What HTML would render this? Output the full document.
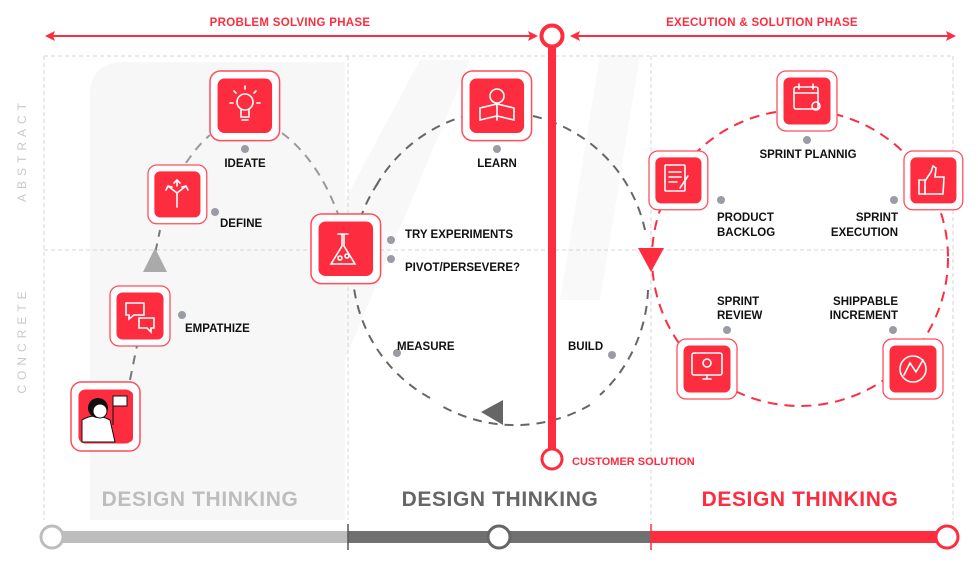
<!DOCTYPE html>
<html><head><meta charset="utf-8"><style>
html,body{margin:0;padding:0;background:#fff;}
svg{display:block;font-family:"Liberation Sans",Arial,sans-serif;}
.l{font-size:11.5px;font-weight:bold;fill:#111;}
</style></head><body>
<svg width="978" height="568" viewBox="0 0 978 568" xmlns="http://www.w3.org/2000/svg">
<defs>
<g id="box"><rect x="0" y="0" width="60" height="60" rx="9" fill="#fff" stroke="#ff4d5c" stroke-width="1.3"/><rect x="6.5" y="6.5" width="47" height="47" rx="6" fill="#fe2c3f"/></g>
</defs>
<!-- faint background -->
<path d="M90 95 Q90 62 125 62 L345 62 L345 520 L90 520 Z" fill="#f7f7f7"/>
<path d="M345 200 L420 60 L470 60 L345 360 Z" fill="#f8f8f8"/>
<path d="M600 55 L640 55 L600 300 L560 300 Z" fill="#f9f9f9"/>
<!-- grid -->
<g stroke="#d5d5d5" stroke-width="1" stroke-dasharray="4 3" fill="none">
<line x1="44" y1="56" x2="953" y2="56"/><line x1="44" y1="250" x2="953" y2="250"/>
<line x1="44" y1="56" x2="44" y2="520"/><line x1="348" y1="56" x2="348" y2="520"/>
<line x1="651" y1="56" x2="651" y2="520"/><line x1="953" y1="56" x2="953" y2="520"/>
</g>
<!-- side labels -->
<text transform="translate(26,150) rotate(-90)" text-anchor="middle" font-size="12" fill="#c8c8c8" letter-spacing="5">ABSTRACT</text>
<text transform="translate(26,340) rotate(-90)" text-anchor="middle" font-size="12" fill="#c8c8c8" letter-spacing="5">CONCRETE</text>
<!-- top arrows -->
<g stroke="#fe2c3f" stroke-width="2" fill="#fe2c3f">
<line x1="50" y1="36" x2="533" y2="36"/><line x1="575" y1="36" x2="950" y2="36"/>
<path d="M45 36 L55 31 L53 36 L55 41 Z" stroke="none"/>
<path d="M538 36 L528 31 L530 36 L528 41 Z" stroke="none"/>
<path d="M570 36 L580 31 L578 36 L580 41 Z" stroke="none"/>
<path d="M956 36 L946 31 L948 36 L946 41 Z" stroke="none"/>
</g>
<text x="290" y="26" text-anchor="middle" font-size="11.5" font-weight="bold" fill="#fe2c3f" letter-spacing="0.3">PROBLEM SOLVING PHASE</text>
<text x="762" y="26" text-anchor="middle" font-size="11.5" font-weight="bold" fill="#fe2c3f" letter-spacing="0.3">EXECUTION &amp; SOLUTION PHASE</text>
<!-- gray dashed circle -->
<path d="M590 405 A150 150 0 0 1 440 405" fill="none" stroke="#666" stroke-width="2" stroke-dasharray="9 7"/>
<path d="M430 398 A150 150 0 0 1 380 180" fill="none" stroke="#666" stroke-width="2" stroke-dasharray="9 7"/>
<path d="M376 186 A150 150 0 0 1 465 116" fill="none" stroke="#666" stroke-width="2" stroke-dasharray="9 7"/>
<path d="M533 116 A150 150 0 0 1 645 230" fill="none" stroke="#666" stroke-width="2" stroke-dasharray="9 7"/>
<path d="M648 290 A150 150 0 0 1 600 395" fill="none" stroke="#666" stroke-width="2" stroke-dasharray="9 7"/>
<path d="M481 412 L503 400 L503 425 Z" fill="#666"/>
<!-- red dashed circle -->
<circle cx="800" cy="258" r="148" fill="none" stroke="#fe2c3f" stroke-width="2" stroke-dasharray="10 7"/>
<path d="M638 248 L664 248 L651 272 Z" fill="#fe2c3f"/>
<!-- left arc -->
<path d="M130 380 Q140 330 147 300" fill="none" stroke="#777" stroke-width="2" stroke-dasharray="9 7"/>
<path d="M152 268 L160 230" fill="none" stroke="#777" stroke-width="2" stroke-dasharray="9 7"/>
<path d="M143 272 L155 248 L167 272 Z" fill="#aaa"/>
<path d="M186 163 Q198 145 210 135" fill="none" stroke="#999" stroke-width="2" stroke-dasharray="9 7"/>
<path d="M282 133 Q318 160 338 214" fill="none" stroke="#999" stroke-width="2" stroke-dasharray="9 7"/>
<!-- vertical red bar -->
<line x1="552" y1="47" x2="552" y2="449" stroke="#fe2c3f" stroke-width="8"/>
<circle cx="552" cy="36" r="10.5" fill="#fff" stroke="#fe2c3f" stroke-width="4"/>
<circle cx="552" cy="459" r="10" fill="#fff" stroke="#fe2c3f" stroke-width="3"/>
<text x="572" y="465" font-size="11" font-weight="bold" fill="#fe2c3f">CUSTOMER SOLUTION</text>
<!-- boxes -->
<use href="#box" transform="translate(210,71) scale(1.16)"/>
<use href="#box" transform="translate(148,165) scale(0.98)"/>
<use href="#box" transform="translate(311,214) scale(1.16)"/>
<use href="#box" transform="translate(462,71) scale(1.16)"/>
<use href="#box" transform="translate(777,71) scale(1)"/>
<use href="#box" transform="translate(649,151) scale(0.98)"/>
<use href="#box" transform="translate(904,151) scale(0.98)"/>
<use href="#box" transform="translate(110,286) scale(1)"/>
<use href="#box" transform="translate(71,382) scale(1.15)"/>
<use href="#box" transform="translate(677,339) scale(1)"/>
<use href="#box" transform="translate(883,339) scale(1)"/>
<!-- icon glyphs (simple) -->
<g stroke="#fff" stroke-width="1.6" fill="none" stroke-linecap="round">
<circle cx="245" cy="102" r="8"/><path d="M241 110 L241 117 L249 117 L249 110 M242 120 L248 120 M245 86 L245 89 M234 91 L236 93 M256 91 L254 93 M230 103 L233 103 M257 103 L260 103"/>
<path d="M177 207 L177 193 M177 193 L168 186 M177 193 L186 186 M177 186 L177 180 M174 183 L177 180 L180 183 M166 190 L168 186 L172 187 M188 190 L186 186 L182 187"/>
<path d="M342 234 L342 246 L331 264 L355 264 L344 246 L344 234 M338 234 L348 234"/><circle cx="340" cy="258" r="2"/><circle cx="347" cy="256" r="2"/>
<path d="M480 120 L497 116 L514 120 L514 108 L497 104 L480 108 Z M497 104 L497 120"/><circle cx="497" cy="96" r="7"/>
<rect x="794" y="87" width="24" height="22" rx="2"/><path d="M794 93 L818 93 M799 84 L799 89 M813 84 L813 89"/><circle cx="816" cy="106" r="4"/>
<rect x="665" y="165" width="20" height="26" rx="1"/><path d="M669 172 L681 172 M669 177 L681 177 M669 182 L677 182 M688 176 L680 188"/>
<path d="M919 180 L925 180 L925 194 L919 194 Z M925 181 L931 172 L933 166 L936 168 L935 177 L944 177 L943 194 L925 194"/>
<path d="M126 303 L144 303 L144 315 L134 315 L129 319 L129 315 L126 315 Z M139 318 L154 318 L154 328 L151 328 L151 332 L147 328 L139 328 Z"/>
<rect x="692" y="353" width="30" height="22" rx="2"/><path d="M703 379 L711 379 M707 375 L707 379"/><circle cx="707" cy="363" r="4"/>
<circle cx="913" cy="369" r="13"/><path d="M904 375 L910 363 L916 372 L923 360"/>
</g>
<!-- woman illustration -->
<rect x="80" y="391" width="53" height="51" rx="4" fill="#fe2c3f"/>
<path d="M82 442 L82 420 Q95 412 110 420 L115 442 Z" fill="#fff" stroke="#111" stroke-width="1"/>
<circle cx="98" cy="408" r="10" fill="#111"/><circle cx="100" cy="411" r="7" fill="#fff" stroke="#111"/>
<rect x="113" y="396" width="14" height="10" fill="#fff" stroke="#111"/><path d="M113 396 L113 425" stroke="#111"/>
<!-- dots and labels -->
<g fill="#9a9ca4">
<circle cx="245" cy="149" r="4"/><circle cx="215" cy="212" r="4"/><circle cx="391" cy="240" r="4"/><circle cx="391" cy="259" r="4"/>
<circle cx="497" cy="149" r="4"/><circle cx="397" cy="353" r="4"/><circle cx="612" cy="355" r="4"/><circle cx="182" cy="315" r="4"/>
<circle cx="807" cy="140" r="4"/><circle cx="721" cy="200" r="4"/><circle cx="894" cy="200" r="4"/><circle cx="727" cy="330" r="4"/><circle cx="893" cy="330" r="4"/>
</g>
<text class="l" x="245" y="167" text-anchor="middle">IDEATE</text>
<text class="l" x="220" y="227">DEFINE</text>
<text class="l" x="405" y="238">TRY EXPERIMENTS</text>
<text class="l" x="405" y="271">PIVOT/PERSEVERE?</text>
<text class="l" x="497" y="167" text-anchor="middle">LEARN</text>
<text class="l" x="397" y="350">MEASURE</text>
<text class="l" x="568" y="350">BUILD</text>
<text class="l" x="185" y="332">EMPATHIZE</text>
<text class="l" x="808" y="158" text-anchor="middle">SPRINT PLANNIG</text>
<text class="l" x="717" y="221">PRODUCT</text><text class="l" x="717" y="236">BACKLOG</text>
<text class="l" x="898" y="221" text-anchor="end">SPRINT</text><text class="l" x="898" y="236" text-anchor="end">EXECUTION</text>
<text class="l" x="717" y="305">SPRINT</text><text class="l" x="717" y="319">REVIEW</text>
<text class="l" x="898" y="305" text-anchor="end">SHIPPABLE</text><text class="l" x="898" y="319" text-anchor="end">INCREMENT</text>
<!-- design thinking -->
<g font-size="21" font-weight="bold" text-anchor="middle" letter-spacing="0.6">
<text x="200" y="506" fill="#bdbdbd">DESIGN THINKING</text>
<text x="500" y="506" fill="#666">DESIGN THINKING</text>
<text x="800" y="506" fill="#fe2c3f">DESIGN THINKING</text>
</g>
<!-- bottom timeline -->
<line x1="52" y1="537" x2="348" y2="537" stroke="#bdbdbd" stroke-width="12"/>
<line x1="348" y1="537" x2="651" y2="537" stroke="#707070" stroke-width="12"/>
<line x1="651" y1="537" x2="948" y2="537" stroke="#fe2c3f" stroke-width="12"/>
<line x1="348" y1="524" x2="348" y2="550" stroke="#555" stroke-width="1.5"/>
<line x1="651" y1="524" x2="651" y2="550" stroke="#fe2c3f" stroke-width="1.5"/>
<circle cx="52" cy="537" r="11" fill="#fff" stroke="#bdbdbd" stroke-width="3"/>
<circle cx="499" cy="537" r="11" fill="#fff" stroke="#666" stroke-width="3"/>
<circle cx="947" cy="537" r="11" fill="#fff" stroke="#fe2c3f" stroke-width="3"/>
</svg>
</body></html>
